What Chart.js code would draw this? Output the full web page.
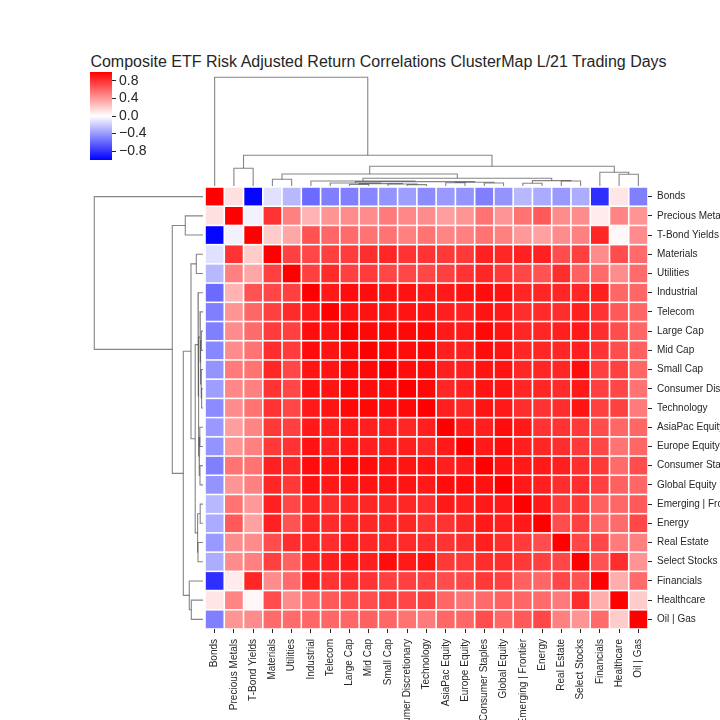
<!DOCTYPE html>
<html>
<head>
<meta charset="utf-8">
<script src="https://cdn.jsdelivr.net/npm/chart.js@4"></script>
<style>
  html, body { margin: 0; padding: 0; background: #ffffff; }
  #wrap { position: relative; width: 720px; height: 720px; overflow: hidden; background: #ffffff; }
  canvas { position: absolute; }
  #title { position: absolute; left: 0; width: 757px; top: 53px; text-align: center;
           font-family: "Liberation Sans", Arial, sans-serif; font-size: 16px; color: #262626; white-space: nowrap; }
</style>
</head>
<body>
<div id="wrap">
  <div id="title">Composite ETF Risk Adjusted Return Correlations ClusterMap L/21 Trading Days</div>
  <canvas id="cbar" width="70" height="88" style="left:90px; top:72px;"></canvas>
  <canvas id="dtop" width="443" height="116" style="left:205px; top:70px;"></canvas>
  <canvas id="dleft" width="116" height="442" style="left:87px; top:187px;"></canvas>
  <canvas id="heat" width="515" height="533" style="left:205px; top:187px;"></canvas>
</div>
<script>
// ---------- DATA ----------
const labels = ["Bonds","Precious Metals","T-Bond Yields","Materials","Utilities","Industrial","Telecom",
  "Large Cap","Mid Cap","Small Cap","Consumer Discretionary","Technology","AsiaPac Equity","Europe Equity",
  "Consumer Staples","Global Equity","Emerging | Frontier","Energy","Real Estate","Select Stocks",
  "Financials","Healthcare","Oil | Gas"];

const rowBonds   = [1, 0.12, -0.98, -0.12, -0.28, -0.58, -0.5, -0.5, -0.47, -0.42, -0.38, -0.45, -0.4, -0.42, -0.5, -0.42, -0.28, -0.33, -0.4, -0.32, -0.82, 0.1, -0.5];
const rowPM      = [0.12, 1, -0.05, 0.8, 0.5, 0.3, 0.42, 0.45, 0.45, 0.52, 0.47, 0.45, 0.38, 0.42, 0.55, 0.42, 0.55, 0.65, 0.45, 0.45, 0.08, 0.48, 0.42];
const rowTBY     = [-0.98, -0.05, 1, 0.2, 0.35, 0.68, 0.6, 0.58, 0.55, 0.55, 0.5, 0.55, 0.48, 0.5, 0.55, 0.5, 0.4, 0.37, 0.45, 0.5, 0.85, 0.03, 0.45];
const rowMat     = [-0.12, 0.8, 0.2, 1, 0.75, 0.72, 0.75, 0.77, 0.82, 0.85, 0.8, 0.8, 0.78, 0.78, 0.87, 0.85, 0.87, 0.87, 0.7, 0.75, 0.45, 0.7, 0.58];
const rowUtil    = [-0.28, 0.5, 0.35, 0.75, 1, 0.75, 0.83, 0.75, 0.77, 0.72, 0.72, 0.72, 0.75, 0.8, 0.85, 0.78, 0.72, 0.68, 0.82, 0.62, 0.58, 0.45, 0.58];
const rowInd     = [-0.58, 0.3, 0.68, 0.72, 0.75, 1, 0.9, 0.95, 0.95, 0.92, 0.93, 0.9, 0.9, 0.93, 0.95, 0.93, 0.85, 0.85, 0.85, 0.85, 0.88, 0.6, 0.6];
const rowTel     = [-0.5, 0.42, 0.6, 0.75, 0.83, 0.9, 1, 0.93, 0.93, 0.92, 0.92, 0.92, 0.88, 0.87, 0.92, 0.9, 0.82, 0.83, 0.82, 0.88, 0.8, 0.65, 0.6];
const rowLC      = [-0.5, 0.45, 0.58, 0.77, 0.75, 0.95, 0.93, 1, 0.97, 0.97, 0.97, 0.97, 0.9, 0.9, 0.97, 0.92, 0.85, 0.85, 0.88, 0.9, 0.82, 0.7, 0.6];
const rowMC      = [-0.47, 0.45, 0.55, 0.82, 0.77, 0.95, 0.93, 0.97, 1, 0.97, 0.95, 0.97, 0.88, 0.88, 0.95, 0.92, 0.85, 0.85, 0.85, 0.88, 0.8, 0.7, 0.62];
const rowSC      = [-0.42, 0.52, 0.55, 0.85, 0.72, 0.92, 0.92, 0.97, 0.97, 1, 0.95, 0.95, 0.88, 0.88, 0.92, 0.92, 0.85, 0.85, 0.85, 0.95, 0.75, 0.75, 0.6];
const rowCD      = [-0.38, 0.47, 0.5, 0.8, 0.72, 0.93, 0.92, 0.97, 0.95, 0.95, 1, 0.97, 0.85, 0.88, 0.92, 0.92, 0.85, 0.85, 0.83, 0.9, 0.75, 0.72, 0.55];
const rowTech    = [-0.45, 0.45, 0.55, 0.8, 0.72, 0.9, 0.92, 0.97, 0.97, 0.95, 0.97, 1, 0.88, 0.85, 0.92, 0.9, 0.82, 0.8, 0.82, 0.92, 0.75, 0.75, 0.52];
const rowAP      = [-0.4, 0.38, 0.48, 0.78, 0.75, 0.9, 0.88, 0.9, 0.88, 0.88, 0.85, 0.88, 1, 0.9, 0.88, 0.95, 0.9, 0.8, 0.8, 0.78, 0.7, 0.6, 0.6];
const rowEU      = [-0.42, 0.42, 0.5, 0.78, 0.8, 0.93, 0.87, 0.9, 0.88, 0.88, 0.88, 0.85, 0.9, 1, 0.9, 0.95, 0.88, 0.85, 0.82, 0.78, 0.72, 0.55, 0.6];
const rowCS      = [-0.5, 0.55, 0.55, 0.87, 0.85, 0.95, 0.92, 0.97, 0.95, 0.92, 0.92, 0.92, 0.88, 0.9, 1, 0.93, 0.9, 0.9, 0.88, 0.82, 0.78, 0.58, 0.7];
const rowGE      = [-0.42, 0.42, 0.5, 0.85, 0.78, 0.93, 0.9, 0.92, 0.92, 0.92, 0.92, 0.9, 0.95, 0.95, 0.93, 1, 0.9, 0.88, 0.82, 0.82, 0.75, 0.62, 0.6];
const rowEM      = [-0.28, 0.55, 0.4, 0.87, 0.72, 0.85, 0.82, 0.85, 0.85, 0.85, 0.85, 0.82, 0.9, 0.88, 0.9, 0.9, 1, 0.9, 0.77, 0.78, 0.62, 0.6, 0.65];
const rowEn      = [-0.33, 0.65, 0.37, 0.87, 0.68, 0.85, 0.83, 0.85, 0.85, 0.85, 0.85, 0.8, 0.8, 0.85, 0.9, 0.88, 0.9, 1, 0.7, 0.75, 0.6, 0.58, 0.72];
const rowRE      = [-0.4, 0.45, 0.45, 0.7, 0.82, 0.85, 0.82, 0.88, 0.85, 0.85, 0.83, 0.82, 0.8, 0.82, 0.88, 0.82, 0.77, 0.7, 1, 0.72, 0.72, 0.52, 0.5];
const rowSS      = [-0.32, 0.45, 0.5, 0.75, 0.62, 0.85, 0.88, 0.9, 0.88, 0.95, 0.9, 0.92, 0.78, 0.78, 0.82, 0.82, 0.78, 0.75, 0.72, 1, 0.68, 0.82, 0.42];
const rowFin     = [-0.82, 0.08, 0.85, 0.45, 0.58, 0.88, 0.8, 0.82, 0.8, 0.75, 0.75, 0.75, 0.7, 0.72, 0.78, 0.75, 0.62, 0.6, 0.72, 0.68, 1, 0.32, 0.58];
const rowHC      = [0.1, 0.48, 0.03, 0.7, 0.45, 0.6, 0.65, 0.7, 0.7, 0.75, 0.72, 0.75, 0.6, 0.55, 0.58, 0.62, 0.6, 0.58, 0.52, 0.82, 0.32, 1, 0.2];
const rowOG      = [-0.5, 0.42, 0.45, 0.58, 0.58, 0.6, 0.6, 0.6, 0.62, 0.6, 0.55, 0.52, 0.6, 0.6, 0.7, 0.6, 0.65, 0.72, 0.5, 0.42, 0.58, 0.2, 1];

// dendrogram links (same linkage for rows and columns): leaf positions, child heights, merge height
const linkLeftPos   = [7, 10, 9, 7.5, 6, 12, 14, 12.5, 7.3125, 5, 16, 18, 16.5, 7.703, 3, 3.5, 21, 20, 8.05, 1, 1.5, 0];
const linkRightPos  = [8, 11, 10.5, 9.75, 8.625, 13, 15, 14.5, 13.5, 10.406, 17, 19, 18.5, 17.5, 4, 12.6, 22, 21.5, 20.75, 2, 14.4, 7.95];
const linkLeftH     = [0, 0, 0, 1.6, 0, 0, 0, 3.2, 3.0, 0, 0, 0, 2.8, 5.0, 0, 6.7, 0, 0, 12.0, 0, 17.7, 0];
const linkRightH    = [0, 0, 1.4, 2.0, 2.4, 0, 0, 3.0, 3.8, 4.4, 0, 0, 5.0, 5.4, 0, 7.8, 0, 11.7, 13.7, 0, 19.7, 30.7];
const linkTopH      = [1.6, 1.4, 2.0, 2.4, 3.0, 3.2, 3.0, 3.8, 4.4, 5.0, 2.8, 5.0, 5.4, 7.8, 6.7, 12.0, 11.7, 13.7, 19.7, 17.7, 30.7, 108.7];

const cbarTicks = [-0.8, -0.4, 0, 0.4, 0.8];
const cbarRange = [-1, 1];

// ---------- BUILD ----------
const matrix = [rowBonds,rowPM,rowTBY,rowMat,rowUtil,rowInd,rowTel,rowLC,rowMC,rowSC,rowCD,rowTech,
  rowAP,rowEU,rowCS,rowGE,rowEM,rowEn,rowRE,rowSS,rowFin,rowHC,rowOG];
const n = labels.length;
const idx = labels.map((_, i) => i);
const TXT = '#262626';
Chart.defaults.font.family = '"Liberation Sans", Arial, sans-serif';
Chart.defaults.color = TXT;
Chart.defaults.animation = false;

function bwr(v) {
  const t = Math.max(-1, Math.min(1, v));
  if (t >= 0) { const g = Math.round(255 * (1 - t)); return `rgb(255,${g},${g})`; }
  const g = Math.round(255 * (1 + t)); return `rgb(${g},${g},255)`;
}
function noPad(s) { s.paddingTop = 0; s.paddingBottom = 0; s.paddingLeft = 0; s.paddingRight = 0; }

// Heatmap
const cells = [];
matrix.forEach((row, r) => row.forEach((v, c) => cells.push({ x: c, y: r, v: v })));

new Chart(document.getElementById('heat'), {
  type: 'scatter',
  data: { datasets: [{
    data: cells,
    pointStyle: 'rect',
    borderWidth: 0,
    backgroundColor: (ctx) => ctx.raw ? bwr(ctx.raw.v) : '#fff',
    radius: (ctx) => {
      const xs = ctx.chart.scales.x;
      const w = Math.abs(xs.getPixelForValue(1) - xs.getPixelForValue(0));
      return (w - 1.6) / Math.SQRT2;
    },
    hoverRadius: 0
  }]},
  options: {
    responsive: false,
    layout: { padding: 0 },
    plugins: { legend: { display: false }, tooltip: { enabled: false } },
    events: [],
    scales: {
      x: {
        type: 'linear', position: 'bottom', min: -0.5, max: n - 0.5,
        afterBuildTicks: (s) => { s.ticks = idx.map(v => ({ value: v })); },
        afterFit: (s) => { s.height = 91; noPad(s); },
        ticks: { autoSkip: false, minRotation: 90, maxRotation: 90, padding: 6,
                 font: { size: 10 }, color: TXT, callback: (v) => labels[v] },
        grid: { drawOnChartArea: false, drawTicks: true, tickLength: 4, tickColor: TXT, tickWidth: 1 },
        border: { display: false }
      },
      y: {
        type: 'linear', position: 'right', reverse: true, min: -0.5, max: n - 0.5,
        afterBuildTicks: (s) => { s.ticks = idx.map(v => ({ value: v })); },
        afterFit: (s) => { s.width = 72; noPad(s); },
        ticks: { autoSkip: false, padding: 5, font: { size: 10 }, color: TXT,
                 callback: (v) => labels[v] },
        grid: { drawOnChartArea: false, drawTicks: true, tickLength: 4, tickColor: TXT, tickWidth: 1 },
        border: { display: false }
      }
    }
  }
});

// Dendrograms
const LINE = 'rgba(60,60,60,0.62)';
function topSets() {
  return linkTopH.map((ht, i) => ({
    data: [
      { x: linkLeftPos[i], y: linkLeftH[i] }, { x: linkLeftPos[i], y: ht },
      { x: linkRightPos[i], y: ht }, { x: linkRightPos[i], y: linkRightH[i] }
    ],
    showLine: true, borderColor: LINE, borderWidth: 1.1, pointRadius: 0, clip: false, tension: 0
  }));
}
function leftSets() {
  return linkTopH.map((ht, i) => ({
    data: [
      { y: linkLeftPos[i], x: linkLeftH[i] }, { y: linkLeftPos[i], x: ht },
      { y: linkRightPos[i], x: ht }, { y: linkRightPos[i], x: linkRightH[i] }
    ],
    showLine: true, borderColor: LINE, borderWidth: 1.1, pointRadius: 0, clip: false, tension: 0
  }));
}
const dendroOpts = (horizontal) => ({
  responsive: false,
  layout: { padding: 0 },
  events: [],
  plugins: { legend: { display: false }, tooltip: { enabled: false } },
  scales: horizontal ? {
    x: { type: 'linear', min: -0.5, max: n - 0.5, display: false },
    y: { type: 'linear', min: 0, max: 116, display: false }
  } : {
    x: { type: 'linear', min: 0, max: 116, reverse: true, display: false },
    y: { type: 'linear', min: -0.5, max: n - 0.5, reverse: true, display: false }
  }
});
new Chart(document.getElementById('dtop'), { type: 'scatter', data: { datasets: topSets() }, options: dendroOpts(true) });
new Chart(document.getElementById('dleft'), { type: 'scatter', data: { datasets: leftSets() }, options: dendroOpts(false) });

// Colorbar
new Chart(document.getElementById('cbar'), {
  type: 'bar',
  data: { labels: ['cb'], datasets: [{
    data: [cbarRange],
    barPercentage: 1, categoryPercentage: 1, borderWidth: 0, borderSkipped: false,
    backgroundColor: (ctx) => {
      const ch = ctx.chart; const ys = ch.scales.y;
      if (!ch.chartArea || !ys) return '#ff0000';
      const g = ch.ctx.createLinearGradient(0, ys.getPixelForValue(cbarRange[0]), 0, ys.getPixelForValue(cbarRange[1]));
      g.addColorStop(0, bwr(cbarRange[0])); g.addColorStop(0.5, bwr(0)); g.addColorStop(1, bwr(cbarRange[1]));
      return g;
    }
  }]},
  options: {
    responsive: false,
    layout: { padding: 0 },
    events: [],
    plugins: { legend: { display: false }, tooltip: { enabled: false } },
    scales: {
      x: { display: false, afterFit: (s) => { noPad(s); } },
      y: {
        position: 'right', min: cbarRange[0], max: cbarRange[1],
        afterBuildTicks: (s) => { s.ticks = cbarTicks.map(v => ({ value: v })); },
        afterFit: (s) => { s.width = 48; noPad(s); },
        ticks: { autoSkip: false, padding: 3, font: { size: 14 }, color: TXT,
                 callback: (v) => (v < 0 ? '\u2212' : '') + Math.abs(v).toFixed(1) },
        grid: { drawOnChartArea: false, drawTicks: true, tickLength: 4, tickColor: TXT, tickWidth: 1 },
        border: { display: false }
      }
    }
  }
});
</script>
</body>
</html>
